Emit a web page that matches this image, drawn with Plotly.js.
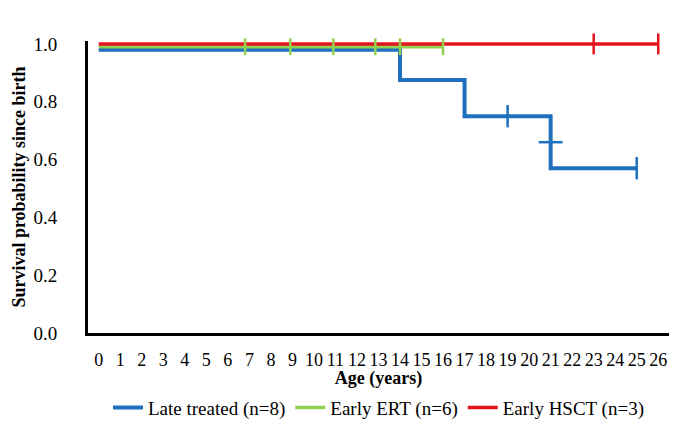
<!DOCTYPE html>
<html>
<head>
<meta charset="utf-8">
<script src="https://cdn.plot.ly/plotly-3.0.1.min.js"></script>
<style>html,body{margin:0;padding:0;background:#fff;}#chart{width:686px;height:447px;}</style>
</head>
<body>
<div id="chart"></div>
<script>
// Series names
const seriesNames = ["Late treated (n=8)", "Early ERT (n=6)", "Early HSCT (n=3)"];

// Late treated: step curve (times, survival)
const lateTimes = [0, 14, 17, 21, 25];
const lateSurv = [0.98, 0.875, 0.75, 0.57, 0.57];
// Late treated censor marks
const lateCensorTimes = [19, 25];
const lateCensorSurv = [0.75, 0.57];
const lateCensor2Times = [21];
const lateCensor2Surv = [0.66];

// Early ERT
const ertTimes = [0, 16];
const ertSurv = [0.99, 0.99];
const ertCensorTimes = [6.8, 8.9, 10.9, 12.85, 14, 16];
const ertCensorSurv = [0.99, 0.99, 0.99, 0.99, 0.99, 0.99];

// Early HSCT
const hsctTimes = [0, 26];
const hsctSurv = [1.0, 1.0];
const hsctCensorTimes = [23, 26];
const hsctCensorSurv = [1.0, 1.0];

// Axis ticks
const xTicks = [0,1,2,3,4,5,6,7,8,9,10,11,12,13,14,15,16,17,18,19,20,21,22,23,24,25,26];
const yTicks = [0, 0.2, 0.4, 0.6, 0.8, 1.0];
const yTickText = ["0.0", "0.2", "0.4", "0.6", "0.8", "1.0"];

const cBlue = "#1f6fbf", cGreen = "#92d050", cRed = "#e3141b";
const FAM = "Liberation Serif";

const traces = [
  {x: lateTimes, y: lateSurv, mode: "lines", line: {shape: "hv", color: cBlue, width: 4}, name: seriesNames[0], legendrank: 1},
  {x: ertTimes, y: ertSurv, mode: "lines", line: {color: cGreen, width: 3.5}, name: seriesNames[1], legendrank: 2},
  {x: hsctTimes, y: hsctSurv, mode: "lines", line: {color: cRed, width: 3.5}, name: seriesNames[2], legendrank: 3},
  {x: lateCensorTimes, y: lateCensorSurv, mode: "markers", showlegend: false, cliponaxis: false,
   marker: {symbol: "line-ns", size: 16, line: {color: cBlue, width: 2.5}}},
  {x: lateCensor2Times, y: lateCensor2Surv, mode: "markers", showlegend: false, cliponaxis: false,
   marker: {symbol: "line-ew", size: 17, line: {color: cBlue, width: 2.5}}},
  {x: ertCensorTimes, y: ertCensorSurv, mode: "markers", showlegend: false, cliponaxis: false,
   marker: {symbol: "line-ns", size: 12, line: {color: cGreen, width: 2.5}}},
  {x: hsctCensorTimes, y: hsctCensorSurv, mode: "markers", showlegend: false, cliponaxis: false,
   marker: {symbol: "line-ns", size: 15, line: {color: cRed, width: 2.5}}}
];

const layout = {
  width: 686, height: 447,
  margin: {l: 88, r: 17, t: 40.6, b: 113.5},
  paper_bgcolor: "#fff", plot_bgcolor: "#fff",
  font: {family: FAM, color: "#000", size: 19},
  showlegend: true,
  legend: {orientation: "h", x: 0.5, xanchor: "center", xref: "paper", y: 0.088, yref: "container", yanchor: "middle",
           font: {family: FAM, size: 19, color: "#000"}, traceorder: "normal", itemwidth: 30},
  xaxis: {
    range: [-0.5, 26.5], tickvals: xTicks, ticktext: xTicks.map(String),
    showgrid: false, zeroline: false, showline: true, linecolor: "#000", linewidth: 3,
    ticks: "", ticklabelstandoff: 8, tickfont: {family: FAM, size: 18, color: "#000"},
    title: {text: "<b>Age (years)</b>", font: {family: FAM, size: 18, color: "#000"}, standoff: 10}
  },
  yaxis: {
    range: [0, 1.01], tickvals: yTicks, ticktext: yTickText,
    showgrid: false, zeroline: false, showline: true, linecolor: "#000", linewidth: 3,
    ticks: "", ticklabelstandoff: 24, tickfont: {family: FAM, size: 19, color: "#000"},
    title: {text: "<b>Survival probability since birth</b>", font: {family: FAM, size: 18, color: "#000"}, standoff: 4}
  }
};

Plotly.newPlot("chart", traces, layout, {displayModeBar: false, staticPlot: true});
</script>
</body>
</html>
